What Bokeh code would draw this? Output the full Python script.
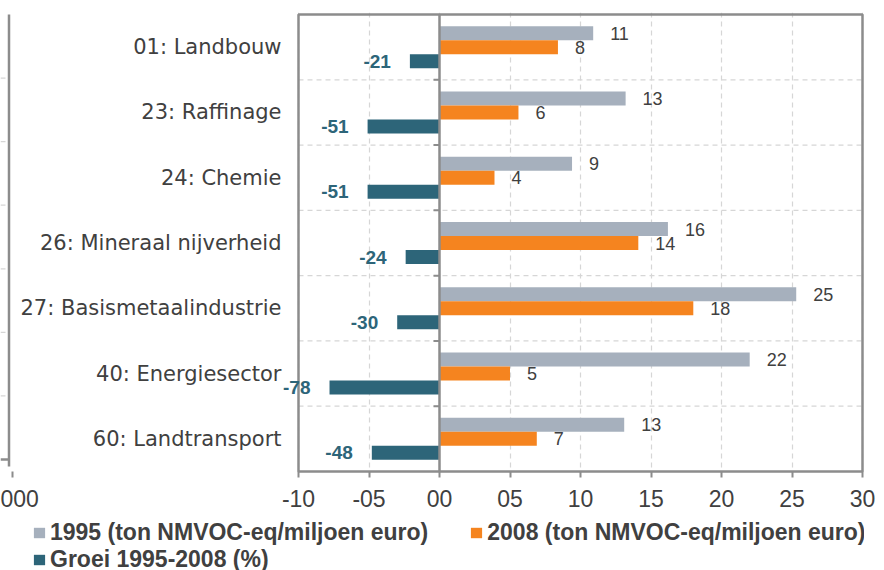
from bokeh.plotting import figure
from bokeh.layouts import column
from bokeh.models import (Range1d, FixedTicker, LabelSet, ColumnDataSource, Legend, LegendItem)
from bokeh.core.properties import value
from bokeh.embed import file_html
from bokeh.resources import INLINE

# ---------------- data ----------------
categories = ["01: Landbouw", "23: Raffinage", "24: Chemie", "26: Mineraal nijverheid",
              "27: Basismetaalindustrie", "40: Energiesector", "60: Landtransport"]
v1995 = [10.9, 13.2, 9.4, 16.2, 25.3, 22.0, 13.1]   # ton NMVOC-eq / miljoen euro
v2008 = [8.4, 5.6, 3.9, 14.1, 18.0, 5.0, 6.9]       # ton NMVOC-eq / miljoen euro
groei = [-21, -51, -51, -24, -30, -78, -48]          # groei 1995-2008 (%)
x_ticks = [-10, -5, 0, 5, 10, 15, 20, 25, 30]
x_tick_labels = ["-10", "-05", "00", "05", "10", "15", "20", "25", "30"]
series_names = ["1995 (ton NMVOC-eq/miljoen euro)", "2008 (ton NMVOC-eq/miljoen euro)",
                "Groei 1995-2008 (%)"]
left_panel_tick = "000"   # cut-off tick label of the neighbouring panel

# ---------------- style / layout ----------------
GRAY = "#a6b0bd"
ORANGE = "#f5841f"
TEAL = "#2d6579"
TXT = "#404040"
AXIS = "#8c8c8c"
GRID = "#d6d6d6"

W, H = 884, 570
LEG_H = 54                                           # strip for the legend
PLOT_L, PLOT_R, PLOT_T, PLOT_B = 298, 862, 14, 471   # plot area in canvas px
PAD = 2
MAIN_H = H - LEG_H

n = len(categories)
idx = list(range(n))
x_min, x_max = x_ticks[0], x_ticks[-1]
PX = (PLOT_R - PLOT_L) / (x_max - x_min)
PY = (PLOT_B - PLOT_T) / n
x_lo = x_min - PLOT_L / PX
x_hi = x_max + PAD / PX
y_top = -0.5 - PAD / PY
y_bot = n - 0.5 + PAD / PY


def cx(px):  # canvas px -> data x
    return x_lo + px / PX


def cy(py):  # canvas px -> data y
    return -0.5 + (py - PLOT_T) / PY


bh = 14 / PY  # bar thickness

src = ColumnDataSource(dict(
    y95=[i - bh for i in idx], y08=[float(i) for i in idx], yg=[i + bh for i in idx],
    yc=[float(i) for i in idx], xc=[x_min] * n, cat=categories,
    v95=v1995, v08=v2008, g=[v / 10 for v in groei],
    l95=[str(int(round(v))) for v in v1995],
    l08=[str(int(round(v))) for v in v2008],
    lg=[str(v) for v in groei],
))

p = figure(width=W, height=MAIN_H, x_range=Range1d(x_lo, x_hi), y_range=Range1d(y_bot, y_top),
           output_backend="svg", toolbar_location=None, title=None, y_axis_location=None,
           min_border_left=0, min_border_right=W - PLOT_R - PAD,
           min_border_top=PLOT_T - PAD, min_border_bottom=MAIN_H - PLOT_B - PAD)
p.background_fill_color = "white"
p.border_fill_color = "white"
p.outline_line_color = None

# vertical dashed grid
p.xgrid.ticker = FixedTicker(ticks=x_ticks)
p.xgrid.grid_line_color = GRID
p.xgrid.grid_line_dash = "5 4"
p.xgrid.grid_line_width = 1.2
p.ygrid.grid_line_color = None

# horizontal dashed category separators
bounds = [i + 0.5 for i in idx[:-1]]
p.segment(x0=[x_min] * len(bounds), x1=[x_max] * len(bounds), y0=bounds, y1=bounds,
          line_color=GRID, line_width=1.2, line_dash="5 4")

# bars
r95 = p.hbar(y="y95", right="v95", left=0, height=bh, fill_color=GRAY, line_color=None, source=src)
r08 = p.hbar(y="y08", right="v08", left=0, height=bh, fill_color=ORANGE, line_color=None, source=src)
rg = p.hbar(y="yg", right="g", left=0, height=bh, fill_color=TEAL, line_color=None, source=src)

# vertical axis line at zero with separator ticks
p.segment(x0=[0], x1=[0], y0=[-0.5], y1=[n - 0.5], line_color=AXIS, line_width=2.5)
p.segment(x0=[0] * len(bounds), x1=[-6 / PX] * len(bounds), y0=bounds, y1=bounds,
          line_color=AXIS, line_width=2)

# plot area border
p.quad(left=[x_min], right=[x_max], top=[-0.5], bottom=[n - 0.5], fill_color=None,
       line_color=AXIS, line_width=2.5)

# fragment of neighbouring panel on the left
p.segment(x0=[cx(8.5)], x1=[cx(8.5)], y0=[cy(PLOT_T)], y1=[cy(466)], line_color=AXIS, line_width=2.5)
p.segment(x0=[cx(0)], x1=[cx(8.5)], y0=[cy(459)], y1=[cy(459)], line_color=AXIS, line_width=2.5)
lp_grid = [PLOT_T + k * (459 - PLOT_T) / 7 for k in range(1, 7)]
p.segment(x0=[cx(0)] * 6, x1=[cx(7)] * 6, y0=[cy(v) for v in lp_grid], y1=[cy(v) for v in lp_grid],
          line_color=GRID, line_width=1.2, line_dash="5 4")

# x axis
xa = p.xaxis[0]
lp_x = cx(12)
xa.ticker = FixedTicker(ticks=[lp_x] + x_ticks)
ov = dict(zip(x_ticks, x_tick_labels))
ov[lp_x] = left_panel_tick
xa.major_label_overrides = ov
xa.axis_line_color = None
xa.major_tick_line_color = AXIS
xa.major_tick_line_width = 2
xa.major_tick_out = 4
xa.major_tick_in = 2
xa.minor_tick_line_color = None
xa.major_label_standoff = 12
xa.major_label_text_font = "Liberation Sans"
xa.major_label_text_font_size = "23px"
xa.major_label_text_color = TXT

# category labels
p.add_layout(LabelSet(x="xc", y="yc", text="cat", source=src, x_offset=-17,
                      text_align="right", text_baseline="middle", text_font=value("DejaVu Sans"),
                      text_font_size="21px", text_color=TXT))

# value labels
p.add_layout(LabelSet(x="v95", y="y95", text="l95", source=src, x_offset=17,
                      text_align="left", text_baseline="middle", text_font=value("Liberation Sans"),
                      text_font_size="18px", text_color=TXT))
p.add_layout(LabelSet(x="v08", y="y08", text="l08", source=src, x_offset=17,
                      text_align="left", text_baseline="middle", text_font=value("Liberation Sans"),
                      text_font_size="18px", text_color=TXT))
p.add_layout(LabelSet(x="g", y="yg", text="lg", source=src, x_offset=-19,
                      text_align="right", text_baseline="middle", text_font=value("Liberation Sans"),
                      text_font_size="19px", text_font_style="bold", text_color=TEAL))

# ---------------- legend strip ----------------
# the same series are drawn here outside the visible y-range; only their legend swatches show
pl = figure(width=W, height=LEG_H, x_range=Range1d(0, 1), y_range=Range1d(100, 101),
            output_backend="svg", toolbar_location=None, title=None,
            x_axis_location=None, y_axis_location=None,
            min_border=0, min_border_left=0, min_border_right=0,
            min_border_top=0, min_border_bottom=0)
pl.outline_line_color = None
pl.grid.visible = False
k95 = pl.hbar(y="y95", right="v95", left=0, height=bh, fill_color=GRAY, line_color=None, source=src)
k08 = pl.hbar(y="y08", right="v08", left=0, height=bh, fill_color=ORANGE, line_color=None, source=src)
kg = pl.hbar(y="yg", right="g", left=0, height=bh, fill_color=TEAL, line_color=None, source=src)

common = dict(padding=0, margin=0, border_line_color=None, background_fill_alpha=0,
              glyph_width=14, glyph_height=13, label_standoff=4, spacing=41,
              label_text_font="Liberation Sans", label_text_font_style="bold",
              label_text_font_size="23px", label_text_color=TXT,
              orientation="horizontal")
leg1 = Legend(items=[LegendItem(label=series_names[0], renderers=[k95]),
                     LegendItem(label=series_names[1], renderers=[k08])],
              location=(32, 24), **common)
leg2 = Legend(items=[LegendItem(label=series_names[2], renderers=[kg])],
              location=(32, -3), **common)
pl.add_layout(leg1)
pl.add_layout(leg2)

open("out.html", "w").write(file_html(column(p, pl, spacing=0), INLINE))
